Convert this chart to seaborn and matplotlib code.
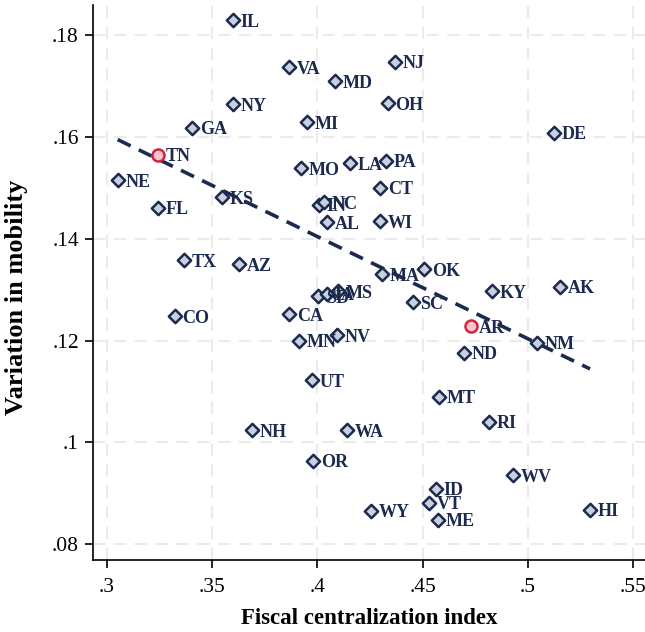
import matplotlib
matplotlib.use("Agg")
import matplotlib.pyplot as plt
import seaborn as sns
import pandas as pd
import numpy as np

states = ["IL", "VA", "MD", "NY", "MI", "GA", "TN", "NE", "MO", "LA",
          "KS", "FL", "IN", "NC", "AL", "TX", "AZ", "SD", "IA", "MS",
          "CO", "CA", "MN", "NV", "UT", "NH", "WA", "OR", "WY", "MT",
          "RI", "WV", "ID", "VT", "ME", "HI", "NJ", "OH", "DE", "PA",
          "CT", "WI", "MA", "OK", "KY", "AK", "SC", "AR", "NM", "ND"]
fiscal_index = [0.3600, 0.3866, 0.4086, 0.3598, 0.3950, 0.3405, 0.3242, 0.3052, 0.3921, 0.4155,
                0.3549, 0.3242, 0.4007, 0.4032, 0.4045, 0.3369, 0.3627, 0.4005, 0.4045, 0.4097,
                0.3324, 0.3867, 0.3915, 0.4095, 0.3973, 0.3688, 0.4140, 0.3981, 0.4254, 0.4579,
                0.4817, 0.4929, 0.4564, 0.4532, 0.4573, 0.5295, 0.4368, 0.4334, 0.5124, 0.4326,
                0.4299, 0.4299, 0.4306, 0.4507, 0.4830, 0.5154, 0.4453, 0.4730, 0.5042, 0.4698]
mobility_var = [0.1829, 0.1736, 0.1709, 0.1664, 0.1629, 0.1618, 0.1565, 0.1515, 0.1538, 0.1548,
                0.1481, 0.1461, 0.1467, 0.1472, 0.1432, 0.1358, 0.1350, 0.1287, 0.1292, 0.1297,
                0.1248, 0.1252, 0.1200, 0.1210, 0.1122, 0.1024, 0.1024, 0.0964, 0.0866, 0.1090,
                0.1041, 0.0936, 0.0909, 0.0882, 0.0848, 0.0868, 0.1747, 0.1666, 0.1608, 0.1553,
                0.1500, 0.1434, 0.1330, 0.1340, 0.1297, 0.1306, 0.1275, 0.1228, 0.1196, 0.1176]
highlighted = ["TN", "AR"]

# fitted line
fit_intercept = 0.2207
fit_slope = -0.2007

x_ticks = [0.30, 0.35, 0.40, 0.45, 0.50, 0.55]
x_tick_labels = [".3", ".35", ".4", ".45", ".5", ".55"]
y_ticks = [0.08, 0.10, 0.12, 0.14, 0.16, 0.18]
y_tick_labels = [".08", ".1", ".12", ".14", ".16", ".18"]

df = pd.DataFrame({"state": states, "fc": fiscal_index, "mob": mobility_var})
df["hl"] = df["state"].isin(highlighted)

fit_x = np.array([df["fc"].min(), df["fc"].max()])
fit_df = pd.DataFrame({"fc": fit_x, "mob": fit_intercept + fit_slope * fit_x})

sns.set_theme(style="white")
plt.rcParams["font.family"] = ["Liberation Serif", "DejaVu Serif"]

NAVY = "#1b2a4e"
FILL = "#c9d0dd"

fig = plt.figure(figsize=(6.45, 6.32), dpi=100)
ax = fig.add_axes([0.1437, 0.1139, 1.0 - 0.1437, 0.992 - 0.1139])

ax.set_axisbelow(True)
ax.grid(True, color="#ebebeb", linestyle=(0, (6, 4)), linewidth=1.5)

sns.lineplot(data=fit_df, x="fc", y="mob", ax=ax, color=NAVY, linewidth=2.6,
             linestyle=(0, (4, 2.5)), zorder=2)

sns.scatterplot(data=df[~df["hl"]], x="fc", y="mob", marker="D", s=46,
                color=FILL, edgecolor=NAVY, linewidth=1.8, ax=ax, zorder=3)
sns.scatterplot(data=df[df["hl"]], x="fc", y="mob", marker="o", s=75,
                color="#f5c8d0", edgecolor="#d3233d", linewidth=1.8, ax=ax, zorder=3)

for s, xv, yv in zip(df["state"], df["fc"], df["mob"]):
    ax.annotate(s, (xv, yv), xytext=(5.5, -1.5), textcoords="offset points",
                ha="left", va="center", fontsize=13, fontweight="bold",
                color=NAVY, zorder=4)

ax.set_xlim(0.29335, 0.5556)
ax.set_ylim(0.07692, 0.18585)
ax.set_xticks(x_ticks)
ax.set_xticklabels(x_tick_labels)
ax.set_yticks(y_ticks)
ax.set_yticklabels(y_tick_labels)
ax.tick_params(axis="both", direction="out", length=6, width=1.2, color="black",
               labelsize=15.5, labelcolor="black", pad=4)
ax.tick_params(axis="x", pad=7)
ax.tick_params(left=True, bottom=True)

for side in ["top", "right"]:
    ax.spines[side].set_visible(False)
for side in ["left", "bottom"]:
    ax.spines[side].set_color("black")
    ax.spines[side].set_linewidth(1.2)

ax.set_xlabel("Fiscal centralization index", fontsize=16.5, fontweight="bold",
              color="black", labelpad=8)
ax.set_ylabel("Variation in mobility", fontsize=19, fontweight="bold",
              color="black")
ax.yaxis.set_label_coords(-0.117, 0.474)

fig.savefig("out.png", dpi=100)
